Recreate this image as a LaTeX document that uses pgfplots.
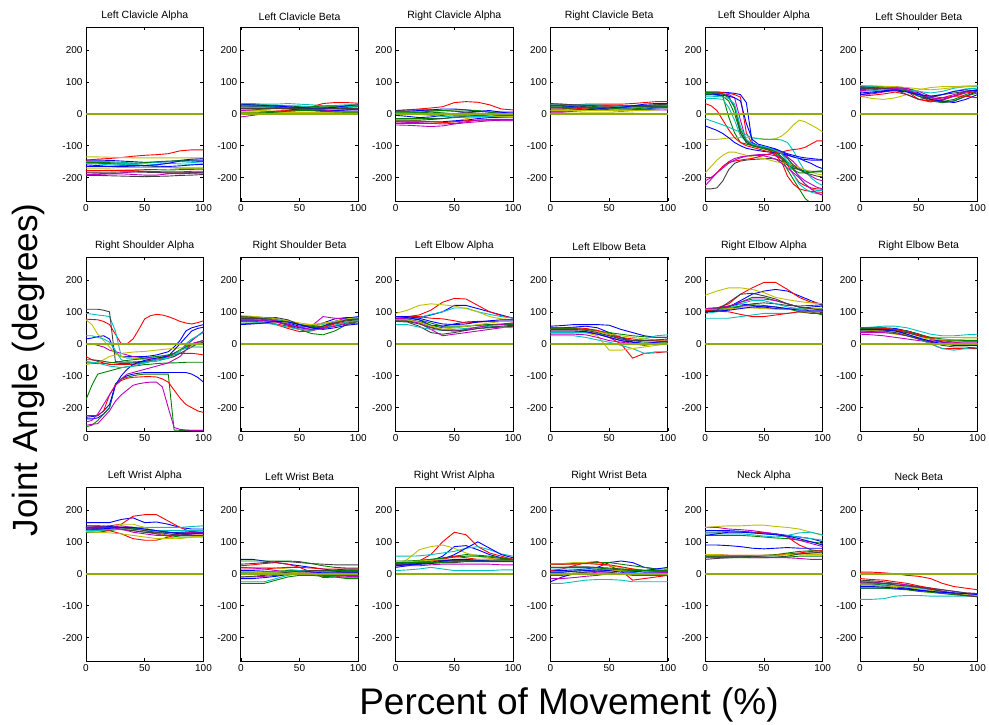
\documentclass[border=0pt]{standalone}
\usepackage{fontspec}
\setmainfont{Liberation Sans}
\usepackage{pgfplots}
\usepackage{pgfplotstable}
\pgfplotsset{compat=1.18}

\definecolor{mb}{rgb}{0,0,1}
\definecolor{mg}{rgb}{0,0.5,0}
\definecolor{mr}{rgb}{1,0,0}
\definecolor{mc}{rgb}{0,0.75,0.75}
\definecolor{mm}{rgb}{0.75,0,0.75}
\definecolor{my}{rgb}{0.75,0.75,0}
\definecolor{mk}{rgb}{0.25,0.25,0.25}
\definecolor{zline}{rgb}{0.55,0.68,0.05}
\pgfplotscreateplotcyclelist{mlab}{{mb},{mg},{mr},{mc},{mm},{my},{mk}}

\pgfplotsset{panel/.style={
    scale only axis, width=117.5pt, height=173.5pt,
    xmin=0, xmax=100, ymin=-273, ymax=270,
    xtick={0,50,100}, xticklabels={0,50,100},
    ytick={-200,-100,0,100,200}, yticklabels={-200,-100,0,100,200},
    tick pos=both, tick align=inside, major tick length=3pt,
    tick label style={font=\fontsize{10}{10}\selectfont},
    title style={font=\fontsize{10.5}{12}\selectfont, yshift=-3pt},
    axis line style={line width=0.9pt},
    every tick/.style={black, line width=0.6pt},
    cycle list name=mlab,
    every axis plot/.append style={line width=0.9pt, no marks},
    anchor=south west}}

% one row per series, one column per sample (0,10,...,100 or 0,5,...,100)
\pgfplotstableread[header=false,row sep=\\]{
-145 -145 -146 -148 -150 -152 -152 -150 -146 -142 -140\\
-155 -155 -156 -158 -160 -162 -165 -168 -170 -170 -170\\
-145 -142 -140 -137 -133 -130 -128 -125 -116 -113 -113\\
-155 -157 -160 -160 -158 -162 -158 -155 -157 -158 -158\\
-185 -186 -188 -188 -190 -192 -192 -188 -186 -184 -183\\
-135 -135 -136 -137 -138 -138 -138 -138 -138 -138 -138\\
-193 -193 -194 -195 -196 -197 -196 -195 -193 -192 -190\\
-165 -165 -165 -163 -162 -163 -164 -165 -163 -160 -158\\
-178 -178 -178 -177 -176 -175 -175 -176 -175 -174 -173\\
-178 -178 -177 -177 -178 -180 -181 -182 -182 -180 -180\\
-150 -150 -150 -152 -154 -155 -152 -150 -150 -152 -155\\
-190 -190 -188 -185 -182 -180 -183 -186 -188 -186 -185\\
-170 -170 -170 -168 -168 -168 -168 -168 -170 -170 -170\\
-183 -183 -183 -182 -182 -183 -184 -185 -185 -185 -185\\
-160 -162 -165 -165 -164 -162 -160 -155 -148 -145 -145\\
-152 -152 -153 -155 -155 -153 -150 -148 -147 -148 -150\\
}\rLCA
\pgfplotstableread[header=false,row sep=\\]{
20 22 22 20 18 15 12 10 10 12 15\\
30 28 28 26 25 22 20 20 22 22 22\\
5 5 6 8 10 15 22 32 35 35 33\\
32 32 30 30 32 30 28 25 26 28 30\\
-10 -5 0 5 8 10 12 15 15 15 15\\
10 10 10 8 8 10 12 15 20 25 30\\
22 22 20 18 16 15 15 15 18 20 22\\
15 15 15 16 15 12 10 8 10 12 12\\
25 25 24 22 20 20 22 24 24 24 24\\
0 2 5 8 10 12 14 15 15 15 15\\
20 20 20 22 25 25 20 18 20 22 25\\
10 12 15 18 20 18 15 12 8 8 8\\
5 5 5 5 5 5 5 5 5 5 5\\
18 18 18 18 18 18 18 18 18 18 18\\
28 28 26 24 22 20 18 18 20 25 28\\
2 2 3 5 8 10 10 8 6 5 5\\
}\rLCB
\pgfplotstableread[header=false,row sep=\\]{
-5 -8 -12 -10 -5 0 5 8 10 5 0\\
-15 -15 -15 -15 -15 -12 -10 -10 -8 -8 -8\\
10 12 15 18 22 35 38 36 28 15 12\\
5 5 3 0 -3 -5 -5 -3 -2 -2 -2\\
-35 -36 -38 -40 -38 -32 -28 -25 -22 -20 -20\\
-20 -20 -22 -25 -28 -25 -15 -10 -8 -8 -8\\
-20 -20 -20 -18 -15 -10 -8 -5 -5 -5 -5\\
-25 -25 -25 -25 -25 -22 -20 -15 -12 -12 -12\\
0 2 3 5 3 0 -2 -5 -5 -5 -5\\
-30 -30 -30 -30 -28 -25 -22 -20 -18 -18 -18\\
0 0 -2 -5 -8 -10 -10 -8 -8 -10 -12\\
-25 -27 -28 -30 -32 -30 -25 -20 -20 -22 -22\\
0 5 8 10 10 8 5 0 -5 -10 -10\\
10 12 12 12 10 8 5 2 0 0 0\\
8 8 10 12 15 15 12 8 5 5 5\\
5 5 5 8 10 12 12 10 5 0 -5\\
}\rRCA
\pgfplotstableread[header=false,row sep=\\]{
15 15 18 20 18 12 10 12 15 18 20\\
22 22 25 25 22 20 18 20 25 28 30\\
30 30 28 30 30 30 30 32 35 38 38\\
18 20 25 28 25 20 15 18 22 25 28\\
10 10 12 15 12 10 8 10 12 15 15\\
2 2 2 3 3 3 2 2 0 -2 -2\\
25 25 25 22 20 20 20 20 22 22 22\\
8 8 10 12 15 18 20 22 22 22 22\\
20 18 15 15 18 20 22 22 22 22 22\\
15 15 15 18 20 22 25 25 25 25 25\\
28 28 28 28 28 25 22 20 18 18 18\\
5 5 8 10 12 15 15 15 12 12 12\\
10 10 10 10 10 10 10 10 10 12 15\\
32 30 28 26 25 25 25 25 26 28 30\\
25 25 22 20 18 18 20 25 30 32 32\\
20 20 20 20 20 18 15 15 18 20 22\\
}\rRCB
\pgfplotstableread[header=false,row sep=\\]{
68 68 68 67 66 64 60 35 -90 -100 -105 -108 -112 -120 -128 -135 -140 -148 -155 -165 -172\\
65 65 63 55 -10 -60 -90 -95 -100 -105 -110 -115 -125 -140 -175 -205 -235 -265 -280 -280 -280\\
68 68 68 66 64 60 52 -60 -95 -100 -105 -115 -130 -150 -195 -220 -235 -240 -243 -245 -246\\
48 48 47 45 20 -20 -70 -85 -95 -100 -105 -110 -115 -120 -135 -170 -200 -220 -235 -240 -240\\
65 65 64 62 60 50 -20 -85 -95 -100 -105 -110 -118 -125 -135 -150 -170 -185 -195 -205 -210\\
-82 -80 -80 -78 -76 -75 -74 -74 -75 -77 -79 -80 -78 -70 -55 -35 -20 -25 -35 -45 -57\\
-235 -235 -232 -210 -175 -155 -148 -145 -143 -142 -141 -140 -142 -148 -160 -170 -175 -178 -180 -180 -180\\
-38 -45 -52 -62 -75 -90 -100 -108 -112 -115 -118 -120 -122 -125 -130 -135 -140 -143 -145 -145 -145\\
60 60 58 55 40 0 -60 -90 -100 -105 -108 -112 -120 -135 -150 -165 -175 -180 -182 -180 -178\\
32 25 10 -20 -50 -75 -90 -100 -105 -110 -115 -120 -130 -140 -160 -190 -215 -225 -232 -235 -236\\
-15 -22 -28 -35 -42 -50 -58 -66 -75 -78 -80 -80 -80 -82 -90 -115 -150 -180 -200 -215 -225\\
-225 -205 -185 -165 -150 -140 -135 -132 -130 -128 -127 -128 -132 -140 -155 -175 -195 -210 -220 -230 -235\\
-185 -165 -145 -130 -120 -120 -125 -130 -135 -138 -140 -145 -150 -153 -155 -160 -168 -175 -182 -188 -192\\
66 66 65 62 55 20 -60 -90 -98 -102 -106 -110 -115 -125 -140 -160 -175 -185 -190 -195 -198\\
62 62 60 58 55 50 40 -30 -80 -95 -100 -105 -110 -118 -125 -130 -135 -138 -140 -142 -143\\
66 66 65 62 50 20 -50 -85 -95 -100 -105 -110 -120 -135 -155 -175 -185 -185 -183 -182 -182\\
-200 -200 -185 -165 -152 -148 -145 -142 -140 -135 -130 -125 -122 -120 -115 -112 -110 -105 -95 -85 -85\\
55 55 54 52 48 30 -40 -80 -95 -100 -103 -108 -115 -125 -150 -190 -220 -235 -245 -250 -252\\
-210 -200 -185 -170 -155 -145 -138 -133 -130 -130 -132 -136 -142 -155 -170 -185 -200 -220 -235 -248 -255\\
}\rLSA
\pgfplotstableread[header=false,row sep=\\]{
80 80 82 85 80 65 45 35 40 55 70\\
85 85 85 82 75 60 45 38 45 60 72\\
75 78 80 85 70 45 37 42 55 65 70\\
70 72 75 78 70 60 55 60 70 78 80\\
60 62 68 75 80 70 55 50 60 70 75\\
55 48 45 50 60 75 82 85 85 87 88\\
78 80 80 78 72 60 50 45 55 70 75\\
65 68 72 75 70 55 45 40 35 45 60\\
82 84 85 80 70 55 40 35 40 55 65\\
55 58 62 68 60 45 40 50 55 55 50\\
85 85 82 80 75 70 65 70 80 85 85\\
72 75 78 80 75 62 50 45 55 68 75\\
88 88 86 85 82 78 75 78 82 85 87\\
85 82 80 75 60 45 50 60 65 70 72\\
60 65 70 72 68 60 55 60 70 75 72\\
}\rLSB
\pgfplotstableread[header=false,row sep=\\]{
15 18 22 25 15 -30 -40 -40 -40 -40 -40 -38 -35 -30 -25 -10 10 40 50 55 60\\
-175 -130 -95 -90 -85 -80 -75 -72 -70 -68 -65 -64 -62 -61 -60 -60 -59 -58 -58 -58 -58\\
77 76 75 70 60 30 0 0 15 45 78 88 92 90 85 78 70 65 62 66 72\\
95 93 90 88 85 40 -40 -45 -45 -45 -45 -42 -40 -38 -35 -30 -20 -5 10 25 40\\
0 0 -5 -10 -20 -25 -30 -35 -40 -42 -45 -45 -45 -42 -38 -30 -20 -5 10 25 37\\
75 60 30 10 -10 -30 -40 -42 -45 -47 -50 -50 -48 -45 -40 -30 -20 -10 -5 0 5\\
108 108 108 105 100 -55 -58 -58 -57 -56 -55 -53 -50 -45 -38 -30 -20 -10 0 5 10\\
-235 -235 -232 -220 -200 -130 -110 -100 -95 -92 -90 -90 -90 -90 -90 -90 -90 -90 -95 -105 -120\\
-260 -255 -240 -220 -200 -125 -110 -105 -100 -97 -95 -95 -95 -95 -95 -270 -271 -271 -271 -271 -271\\
-40 -50 -55 -60 -65 -65 -65 -65 -65 -62 -60 -55 -50 -45 -40 -35 -30 -30 -30 -32 -35\\
25 25 20 15 5 -20 -50 -55 -60 -60 -58 -56 -55 -50 -45 -40 -25 0 15 25 35\\
-255 -252 -250 -230 -210 -180 -160 -145 -130 -125 -122 -120 -120 -135 -200 -262 -268 -270 -271 -271 -271\\
-65 -62 -60 -50 -40 -35 -30 -28 -26 -25 -24 -22 -20 -18 -16 -15 -13 -12 -10 -10 -10\\
-50 -50 -52 -55 -58 -60 -62 -62 -60 -58 -55 -52 -50 -48 -45 -40 -30 -20 -10 0 5\\
-230 -228 -225 -210 -190 -130 -100 -80 -65 -58 -52 -48 -45 -42 -38 -20 0 20 40 48 52\\
-60 -60 -62 -62 -60 -58 -55 -52 -50 -48 -45 -42 -40 -38 -35 -30 -20 -10 0 5 10\\
-225 -225 -225 -210 -160 -130 -115 -108 -105 -104 -103 -103 -104 -110 -120 -145 -170 -190 -200 -210 -215\\
-55 -58 -60 -65 -70 -72 -75 -72 -70 -65 -60 -55 -50 -47 -45 -35 -20 -15 -10 -10 -10\\
-245 -240 -220 -190 -160 -130 -110 -95 -90 -85 -80 -75 -70 -65 -60 -50 -40 -20 0 5 10\\
}\rRSA
\pgfplotstableread[header=false,row sep=\\]{
80 80 78 75 65 55 55 65 78 82 82\\
75 75 72 68 58 45 32 28 40 60 70\\
70 70 68 60 48 38 40 50 65 75 78\\
82 82 80 75 68 60 55 60 70 78 80\\
78 78 76 72 62 50 55 85 80 78 75\\
65 65 66 68 66 62 60 65 70 72 75\\
85 85 82 78 70 60 50 55 65 72 75\\
72 72 72 70 60 50 45 55 70 80 85\\
80 82 80 78 70 60 55 50 55 65 70\\
62 64 65 62 55 45 42 50 62 68 70\\
68 68 65 60 52 45 42 48 58 68 72\\
75 75 72 68 60 52 45 48 55 62 65\\
88 86 82 78 72 65 60 62 70 78 82\\
80 78 80 82 75 60 50 55 65 75 78\\
60 62 65 70 68 60 50 45 50 58 62\\
}\rRSB
\pgfplotstableread[header=false,row sep=\\]{
80 80 82 90 100 120 120 110 100 90 80\\
80 80 75 65 55 55 55 58 60 60 60\\
85 85 90 105 130 142 140 120 100 88 80\\
75 78 82 92 100 112 112 100 92 85 80\\
75 72 65 45 25 30 35 40 45 50 55\\
95 105 120 125 122 118 110 100 85 78 75\\
70 68 55 35 30 35 42 48 50 52 55\\
85 82 75 58 55 62 68 70 70 70 70\\
75 75 70 58 50 50 55 58 60 62 65\\
85 85 85 80 78 72 65 68 70 70 70\\
60 60 52 45 42 45 48 52 55 52 50\\
80 78 68 52 45 40 45 52 58 60 65\\
75 75 68 55 45 50 55 60 65 70 70\\
72 70 62 50 42 40 42 48 52 55 58\\
85 85 80 70 62 60 62 68 72 75 75\\
}\rLEA
\pgfplotstableread[header=false,row sep=\\]{
55 57 60 60 60 58 45 35 25 20 20\\
45 45 45 45 40 30 20 10 5 5 5\\
40 40 40 38 32 20 0 -45 -30 -28 -25\\
25 25 25 20 12 5 -5 -15 -30 -25 -25\\
35 35 35 35 30 20 10 0 0 5 10\\
40 40 40 35 25 -20 -20 -15 -10 -5 0\\
45 45 45 45 40 30 15 5 0 0 2\\
50 50 52 55 50 35 20 5 0 5 8\\
48 48 48 45 40 35 30 25 22 20 20\\
50 50 50 48 42 30 20 15 10 10 8\\
35 35 35 35 32 25 15 10 15 25 28\\
30 30 30 28 20 10 5 0 -5 0 0\\
45 45 45 42 38 30 25 20 15 12 12\\
45 45 45 42 35 25 15 10 10 12 15\\
40 40 40 38 30 20 10 5 0 -2 -2\\
}\rLEB
\pgfplotstableread[header=false,row sep=\\]{
105 105 115 135 155 165 170 165 150 135 120\\
105 110 115 130 145 145 135 125 115 100 90\\
110 112 125 155 175 192 192 170 145 130 125\\
80 80 80 85 90 95 95 95 100 100 100\\
100 105 110 115 115 112 110 108 108 110 110\\
152 165 175 175 170 160 145 138 132 128 125\\
100 102 108 118 125 128 125 120 118 120 122\\
110 112 118 125 120 115 110 108 110 115 118\\
105 108 112 118 122 120 115 110 100 95 95\\
105 102 100 92 85 85 90 95 100 100 100\\
95 100 110 125 135 135 125 115 110 110 110\\
110 112 118 130 140 140 135 125 115 110 108\\
108 108 110 112 112 110 108 108 108 110 112\\
100 105 130 155 158 150 140 125 115 110 105\\
100 102 105 110 115 118 115 110 105 105 105\\
}\rREA
\pgfplotstableread[header=false,row sep=\\]{
50 50 50 48 40 30 15 5 0 0 0\\
45 45 45 42 35 25 15 10 10 8 8\\
45 45 45 42 30 15 0 -15 -15 -15 -15\\
50 52 55 55 50 40 30 25 25 28 30\\
30 28 25 20 15 10 5 0 -2 -5 -5\\
40 38 35 30 25 20 20 20 20 20 20\\
40 40 42 40 35 25 15 5 0 -5 -5\\
35 38 42 45 40 30 18 5 -5 -5 -5\\
48 48 48 45 40 30 20 15 12 10 10\\
50 50 48 45 38 28 18 10 5 0 0\\
40 40 38 35 28 15 0 -15 -20 -15 -10\\
35 35 35 32 25 15 10 5 5 5 5\\
45 42 40 35 28 20 15 12 12 15 15\\
40 40 40 35 25 15 5 -5 -10 -10 -15\\
45 45 45 40 30 18 8 0 -5 -5 -5\\
}\rREB
\pgfplotstableread[header=false,row sep=\\]{
160 160 160 170 175 160 162 155 145 140 140\\
135 135 138 140 135 130 125 120 115 115 115\\
145 148 150 155 180 185 185 165 145 130 125\\
145 145 145 145 145 145 145 145 145 148 150\\
140 142 145 150 145 135 125 120 120 125 130\\
130 135 145 155 155 145 130 115 110 115 120\\
140 140 140 138 135 130 128 128 130 132 135\\
150 150 148 145 140 138 135 130 128 128 130\\
130 130 135 140 142 140 135 130 125 120 118\\
140 138 135 125 110 105 105 115 125 125 125\\
135 135 138 140 140 138 135 135 135 135 135\\
145 145 145 140 130 125 120 120 125 130 130\\
132 130 128 125 120 115 110 110 112 115 118\\
145 145 145 145 140 135 130 125 120 120 120\\
140 140 142 145 145 140 135 130 125 125 128\\
}\rLWA
\pgfplotstableread[header=false,row sep=\\]{
45 45 40 35 30 25 20 15 10 8 8\\
40 40 40 40 40 38 32 25 20 18 18\\
25 28 32 35 30 20 5 -12 -10 -5 -5\\
-25 -25 -25 -15 -5 0 0 -5 -10 -12 -12\\
-10 -10 -8 -5 0 5 5 0 -5 -8 -8\\
20 20 20 18 15 10 8 8 10 12 15\\
30 32 35 38 38 35 32 30 28 28 28\\
10 10 8 5 5 5 8 10 12 15 15\\
5 5 5 8 10 10 10 10 10 10 10\\
15 15 15 18 20 20 18 15 15 15 15\\
0 0 2 5 8 10 10 5 0 -5 -5\\
20 18 15 10 5 0 -2 -5 -5 -5 -5\\
0 2 5 5 5 3 2 2 3 5 5\\
-10 -8 -5 0 5 8 10 10 8 5 5\\
-15 -15 -12 -8 -2 0 2 5 5 5 5\\
-30 -30 -30 -20 -10 -5 -5 -8 -10 -15 -15\\
}\rLWB
\pgfplotstableread[header=false,row sep=\\]{
20 25 30 40 55 85 88 75 60 50 45\\
30 35 40 45 50 55 60 58 55 50 45\\
25 30 40 60 100 130 122 85 65 55 45\\
55 55 56 60 65 70 80 85 75 62 55\\
30 30 32 35 38 40 40 40 40 40 40\\
25 45 75 85 90 80 65 55 48 45 40\\
35 35 38 40 42 42 42 42 40 40 38\\
30 30 32 35 45 60 80 100 80 60 50\\
40 40 42 45 48 52 55 55 52 48 45\\
35 35 38 40 45 55 50 45 45 45 45\\
10 12 15 20 15 10 10 10 10 12 12\\
25 25 25 28 30 30 30 30 30 28 28\\
35 38 40 42 45 45 45 45 45 42 40\\
30 30 30 32 35 35 38 38 38 38 38\\
25 28 30 32 40 45 45 42 40 40 40\\
35 35 35 35 35 38 40 40 40 40 40\\
}\rRWA
\pgfplotstableread[header=false,row sep=\\]{
10 10 12 15 20 35 40 35 20 15 12\\
30 30 32 35 35 35 30 25 20 15 15\\
10 15 25 35 38 25 10 -20 -15 -10 -5\\
-30 -30 -25 -20 -18 -18 -20 -25 -25 -25 -25\\
-5 -5 -2 0 5 5 0 -5 -5 -5 -5\\
30 32 35 35 30 25 20 15 12 10 10\\
20 20 22 22 20 18 15 12 10 10 10\\
-25 -10 0 5 8 10 10 8 5 5 5\\
5 5 8 10 12 15 15 12 10 8 8\\
30 30 30 32 30 28 22 15 10 8 8\\
15 15 15 15 15 12 10 5 0 0 0\\
-15 -15 -12 -8 -5 0 0 0 0 2 5\\
0 0 2 5 8 10 10 10 10 12 15\\
0 0 2 5 8 5 0 -3 -3 0 0\\
5 5 8 10 12 10 5 5 10 15 20\\
20 20 20 20 18 15 12 10 10 10 10\\
}\rRWB
\pgfplotstableread[header=false,row sep=\\]{
135 135 135 133 130 128 125 120 115 110 100\\
120 120 120 120 118 115 112 110 105 100 95\\
130 130 132 132 130 128 125 115 90 75 70\\
130 130 132 130 128 125 122 118 115 110 105\\
145 145 140 138 135 130 125 115 105 95 85\\
145 148 150 150 152 152 148 145 140 130 120\\
45 48 50 52 55 55 58 60 62 65 65\\
90 90 88 85 80 78 80 82 80 80 80\\
55 55 55 55 55 58 60 65 70 72 72\\
60 60 58 58 58 58 58 62 65 70 72\\
125 125 125 125 122 118 115 120 128 130 122\\
50 50 52 52 50 50 50 50 48 45 45\\
60 60 58 58 58 58 58 60 62 60 60\\
55 55 55 55 55 52 52 55 62 65 68\\
120 125 130 130 128 125 122 118 110 100 90\\
52 52 50 50 50 50 52 52 55 55 55\\
}\rNA
\pgfplotstableread[header=false,row sep=\\]{
-45 -45 -45 -45 -48 -50 -55 -60 -65 -68 -70\\
-30 -32 -35 -40 -45 -50 -55 -60 -62 -65 -65\\
5 5 3 0 -5 -8 -15 -30 -40 -45 -50\\
-80 -80 -78 -70 -68 -68 -70 -70 -70 -70 -70\\
-25 -25 -30 -35 -40 -42 -45 -50 -55 -60 -62\\
-40 -40 -42 -45 -50 -55 -58 -60 -62 -65 -65\\
-20 -22 -25 -30 -35 -40 -45 -50 -55 -60 -62\\
-35 -35 -38 -40 -45 -50 -55 -60 -62 -65 -68\\
-45 -45 -45 -48 -50 -55 -58 -62 -65 -68 -70\\
-15 -18 -20 -25 -30 -38 -45 -55 -62 -68 -72\\
-30 -30 -32 -35 -40 -45 -50 -55 -60 -62 -65\\
-28 -28 -30 -30 -35 -42 -48 -55 -60 -65 -68\\
-35 -35 -38 -40 -42 -48 -52 -58 -62 -65 -68\\
-25 -28 -30 -35 -38 -42 -48 -55 -62 -68 -72\\
-40 -40 -42 -45 -48 -52 -55 -58 -60 -62 -65\\
}\rNB

\pgfplotstableread[row sep=\\]{
x y\\
0 0\\
100 0\\
}\zerotab

\newcommand\panel[5]{% table, x step, title, left, bottom
  \pgfplotstabletranspose{\tcur}{#1}
  \pgfplotstablegetcolsof{\tcur}
  \pgfmathtruncatemacro\nlast{\pgfplotsretval-1}
  \begin{axis}[panel, at={(#4pt,#5pt)}, title={#3}]
    \pgfplotsinvokeforeach{1,...,\nlast}{%
      \addplot table[x expr=\coordindex*#2, y index=##1]{\tcur};}
    \addplot[zline, line width=2pt, forget plot] table[x=x, y=y]{\zerotab};
  \end{axis}}

\begin{document}
\begin{tikzpicture}
\path[use as bounding box] (0,0) rectangle (989pt,725pt);
\panel{\rLCA}{10}{Left Clavicle Alpha}{86}{524}
\panel{\rLCB}{10}{Left Clavicle Beta}{240.8}{524}
\panel{\rRCA}{10}{Right Clavicle Alpha}{395.6}{524}
\panel{\rRCB}{10}{Right Clavicle Beta}{550.4}{524}
\panel{\rLSA}{5}{Left Shoulder Alpha}{705.2}{524}
\panel{\rLSB}{10}{Left Shoulder Beta}{860}{524}
\panel{\rRSA}{5}{Right Shoulder Alpha}{86}{294}
\panel{\rRSB}{10}{Right Shoulder Beta}{240.8}{294}
\panel{\rLEA}{10}{Left Elbow Alpha}{395.6}{294}
\panel{\rLEB}{10}{Left Elbow Beta}{550.4}{294}
\panel{\rREA}{10}{Right Elbow Alpha}{705.2}{294}
\panel{\rREB}{10}{Right Elbow Beta}{860}{294}
\panel{\rLWA}{10}{Left Wrist Alpha}{86}{64}
\panel{\rLWB}{10}{Left Wrist Beta}{240.8}{64}
\panel{\rRWA}{10}{Right Wrist Alpha}{395.6}{64}
\panel{\rRWB}{10}{Right Wrist Beta}{550.4}{64}
\panel{\rNA}{10}{Neck Alpha}{705.2}{64}
\panel{\rNB}{10}{Neck Beta}{860}{64}
\node[rotate=90, font=\fontsize{35}{35}\selectfont] at (28pt,355pt) {Joint Angle (degrees)};
\node[font=\fontsize{37}{37}\selectfont] at (569pt,20pt) {Percent of Movement (\%)};
\end{tikzpicture}
\end{document}
